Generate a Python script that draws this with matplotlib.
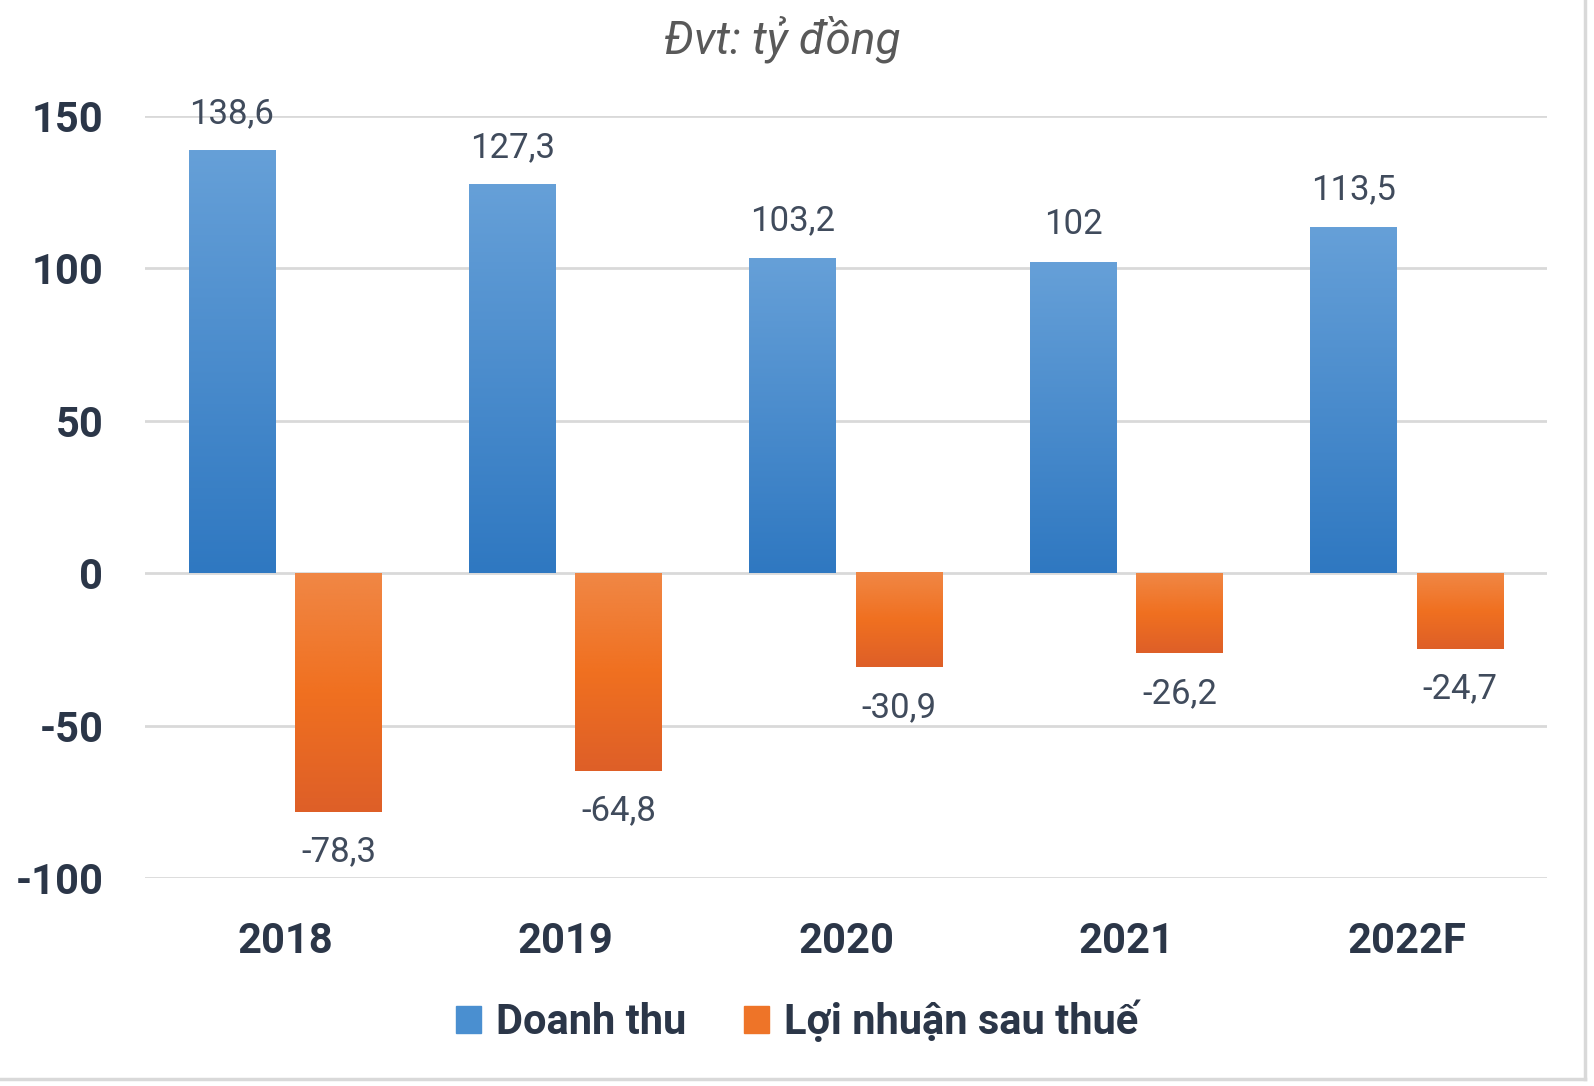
import numpy as np
import matplotlib.pyplot as plt
from matplotlib.colors import LinearSegmentedColormap
from matplotlib.patches import Patch
from matplotlib.lines import Line2D

# data
years = ['2018', '2019', '2020', '2021', '2022F']
doanh_thu = [138.6, 127.3, 103.2, 102, 113.5]
loi_nhuan = [-78.3, -64.8, -30.9, -26.2, -24.7]
doanh_thu_labels = ['138,6', '127,3', '103,2', '102', '113,5']
loi_nhuan_labels = ['-78,3', '-64,8', '-30,9', '-26,2', '-24,7']
y_ticks = [-100, -50, 0, 50, 100, 150]

plt.rcParams['font.family'] = ['Roboto', 'DejaVu Sans']

fig = plt.figure(figsize=(15.94, 10.86), dpi=100)
ax = fig.add_axes([0.091, 0.1915, 0.8795, 0.7017])

x = np.arange(len(years))
w = 0.31
bars1 = ax.bar(x - 0.19, doanh_thu, w, color='#4a8fd0', zorder=2)
bars2 = ax.bar(x + 0.19, loi_nhuan, w, color='#ee7428', zorder=2)

# vertical gradient fill, light at top, dark at bottom
blue_cmap = LinearSegmentedColormap.from_list('b', ['#66a0d8', '#2f78c1'])
orange_cmap = LinearSegmentedColormap.from_list('o', ['#f08745', '#f07020', '#de5f28'])
grad = np.linspace(0, 1, 256).reshape(-1, 1)
for bars, cm in ((bars1, blue_cmap), (bars2, orange_cmap)):
    for p in bars:
        x0, y0 = p.get_x(), p.get_y()
        x1, y1 = x0 + p.get_width(), y0 + p.get_height()
        ax.imshow(grad, extent=[x0, x1, min(y0, y1), max(y0, y1)], aspect='auto',
                  cmap=cm, clip_path=p, zorder=3)

# value labels
for i in range(len(years)):
    ax.annotate(doanh_thu_labels[i], (x[i] - 0.19, doanh_thu[i]), xytext=(0, 27),
                textcoords='offset points', ha='center', va='center',
                fontsize=25, color='#404b5c')
    ax.annotate(loi_nhuan_labels[i], (x[i] + 0.19, loi_nhuan[i]), xytext=(0, -29),
                textcoords='offset points', ha='center', va='center',
                fontsize=25, color='#404b5c')

ax.set_xlim(-0.5, len(years) - 0.5)
ax.set_ylim(-100, 150)
ax.set_yticks(y_ticks)
ax.set_yticklabels([str(t) for t in y_ticks])
ax.set_xticks(x)
ax.set_xticklabels(years)
ax.yaxis.grid(True, color='#d9d9d9', lw=2)
ax.set_axisbelow(True)
for s in ax.spines.values():
    s.set_visible(False)
ax.tick_params(axis='both', length=0, labelsize=30, colors='#2b3648')
ax.tick_params(axis='y', pad=30)
ax.tick_params(axis='x', pad=31)
for lab in ax.get_xticklabels() + ax.get_yticklabels():
    lab.set_fontweight('bold')

fig.text(0.491, 0.964, 'Đvt: tỷ đồng', ha='center', va='center', fontsize=33,
         style='italic', color='#595959')

handles = [Patch(facecolor='#4a8fd0', edgecolor='#4a8fd0'),
           Patch(facecolor='#ee7428', edgecolor='#ee7428')]
leg = fig.legend(handles, ['Doanh thu', 'Lợi nhuận sau thuế'], loc='center',
                 bbox_to_anchor=(0.5, 0.059), ncol=2, frameon=False,
                 prop={'size': 30, 'weight': 'bold'},
                 handlelength=0.6, handleheight=0.6, handletextpad=0.35,
                 columnspacing=1.4)
for t in leg.get_texts():
    t.set_color('#2b3648')

# chart area border (right and bottom visible)
fig.add_artist(Line2D([1585 / 1594, 1585 / 1594], [1 - 1079 / 1086, 1], color='#d9d9d9', lw=2.5))
fig.add_artist(Line2D([0, 1585 / 1594], [1 - 1079 / 1086, 1 - 1079 / 1086], color='#d9d9d9', lw=2.5))

fig.savefig('out.png', dpi=100)
